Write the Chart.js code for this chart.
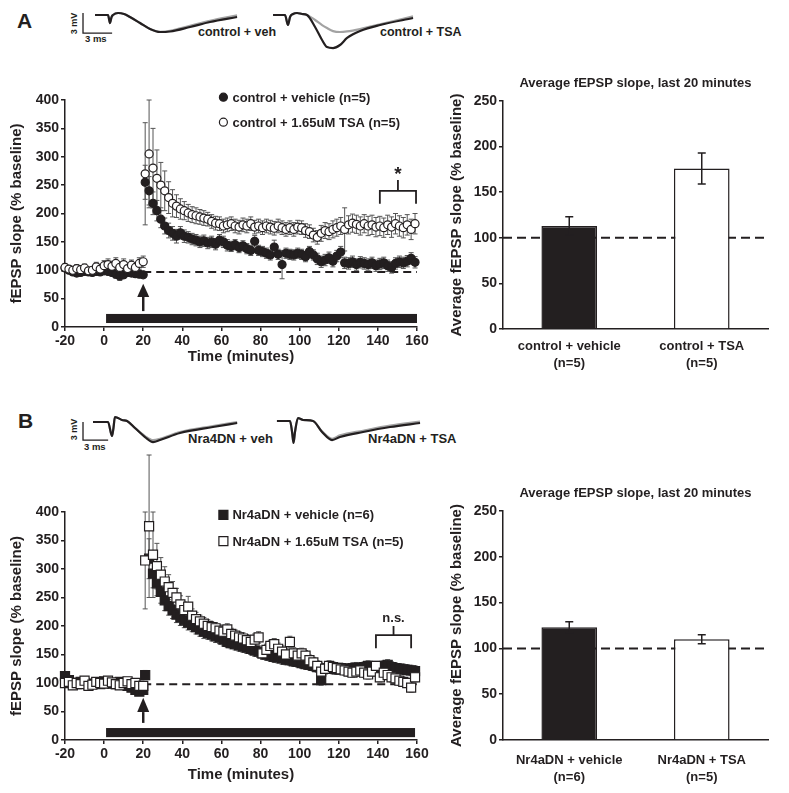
<!DOCTYPE html>
<html><head><meta charset="utf-8">
<script src="https://cdn.jsdelivr.net/npm/chart.js@4.4.1/dist/chart.umd.min.js"></script>
<style>
body{margin:0;background:#fff;width:789px;height:793px;position:relative;overflow:hidden;font-family:"Liberation Sans",Arial,sans-serif;color:#231f20}
canvas{position:absolute}
.t{position:absolute;font-weight:bold;white-space:nowrap;line-height:1}
</style></head><body>
<div class="t" style="left:17px;top:10px;font-size:21px">A</div>
<div class="t" style="left:18px;top:410px;font-size:21px">B</div>
<div class="t" style="left:198px;top:26px;font-size:12.5px">control + veh</div>
<div class="t" style="left:380px;top:26px;font-size:12.5px">control + TSA</div>
<div class="t" style="left:188px;top:432px;font-size:13px">Nra4DN + veh</div>
<div class="t" style="left:368px;top:432px;font-size:13px">Nr4aDN + TSA</div>
<div class="t" style="left:64px;top:19px;font-size:9px;transform:rotate(-90deg)">3 mV</div>
<div class="t" style="left:85px;top:34px;font-size:9.5px">3 ms</div>
<div class="t" style="left:64px;top:425px;font-size:9px;transform:rotate(-90deg)">3 mV</div>
<div class="t" style="left:84px;top:442px;font-size:9.5px">3 ms</div>

<canvas id="timeA" width="440" height="290" style="left:0;top:80px"></canvas>
<canvas id="barA" width="349" height="300" style="left:440px;top:70px"></canvas>
<canvas id="timeB" width="440" height="350" style="left:0;top:440px"></canvas>
<canvas id="barB" width="349" height="310" style="left:440px;top:480px"></canvas>
<canvas id="traceA" width="390" height="55" style="left:80px;top:0"></canvas>
<canvas id="traceB" width="390" height="55" style="left:80px;top:407px"></canvas>

<script>
// ---------------- DATA ----------------
const timeMin = [-20,-18,-16,-14,-12,-10,-8,-6,-4,-2,0,2,4,6,8,10,12,14,16,18,20,
21,23,25,27,29,31,33,35,37,39,41,43,45,47,49,51,53,55,57,59,61,63,65,67,69,71,73,75,77,79,
81,83,85,87,89,91,93,95,97,99,101,103,105,107,109,111,113,115,117,119,121,123,125,127,129,131,133,135,137,139,
141,143,145,147,149,151,153,155,157,159];

const ctrlVehMean = [104,100,97,95,96,98,97,96,98,97,99,98,96,93,90,92,96,95,94,93,92,
255,240,218,205,190,178,170,165,160,166,160,158,155,153,150,152,148,150,146,153,150,144,142,145,140,143,138,135,151,135,
133,130,127,141,128,110,130,128,127,130,128,124,133,127,120,115,118,122,116,125,132,113,112,115,110,114,112,110,113,108,
111,113,108,105,112,115,113,116,121,114];
const ctrlVehSem = [6,5,5,6,5,5,6,5,5,6,6,5,6,7,8,6,7,6,6,6,5,
30,25,20,18,15,14,13,12,12,11,11,10,10,10,10,10,10,10,10,10,10,10,9,9,9,9,9,9,10,9,
9,9,9,12,9,25,9,9,9,9,9,9,9,9,10,10,10,10,10,10,10,10,10,10,10,10,10,10,10,10,
10,10,10,10,10,10,10,10,10,10];

const ctrlTsaMean = [105,102,100,103,101,104,99,100,106,102,108,110,107,112,105,110,103,109,105,112,115,
270,305,280,262,250,240,228,218,213,208,205,201,198,196,194,192,190,186,183,182,178,180,182,178,176,180,178,182,176,178,
175,178,176,174,178,175,172,175,172,176,175,170,168,162,158,165,170,168,172,175,178,172,180,183,181,178,182,178,180,176,
178,175,180,176,182,178,175,180,172,182];
const ctrlTsaSem = [7,6,6,7,6,7,6,6,8,7,9,10,9,10,9,10,8,9,8,10,10,
90,95,70,50,40,35,28,24,20,18,16,15,14,14,13,13,12,12,12,12,12,12,12,12,12,12,12,12,12,12,
12,12,12,12,12,12,12,12,12,12,12,12,12,12,12,14,14,14,15,15,15,38,16,16,16,16,16,17,17,17,
17,17,17,18,18,18,18,18,18,18];

const nr4VehMean = [112,105,100,98,102,100,97,99,101,98,103,100,99,98,102,97,95,92,88,85,88,
114,318,292,275,260,245,235,228,220,215,210,206,202,198,194,190,188,185,182,180,176,172,170,168,166,164,162,160,157,155,
152,150,148,146,145,143,141,140,138,137,135,133,132,130,128,105,125,126,125,124,126,125,124,126,127,125,128,130,128,126,
128,130,132,128,126,125,124,123,122,121];
const nr4VehSem = [6,6,6,5,5,6,5,5,6,5,6,5,5,6,6,5,5,6,7,6,8,
8,35,25,22,20,18,16,15,14,14,13,13,12,12,12,12,11,11,11,11,11,10,10,10,10,10,10,10,10,10,
10,10,10,10,10,10,9,9,9,9,9,9,9,9,9,9,9,9,9,9,9,9,9,9,9,9,9,9,9,9,
9,9,9,9,9,9,9,9,9,9];

const nr4TsaMean = [100,102,96,100,98,104,95,97,102,100,99,104,101,98,96,100,103,98,100,95,95,
315,375,325,305,290,278,268,258,250,238,228,234,218,212,208,204,200,198,196,192,190,194,186,183,180,178,175,172,176,180,
152,158,165,168,160,155,150,172,152,148,152,148,140,136,130,120,125,130,128,126,124,122,120,118,120,122,118,115,120,130,
110,118,114,110,108,104,102,100,92,110];
const nr4TsaSem = [7,6,7,6,7,6,7,6,6,7,6,6,7,6,7,6,7,6,7,6,7,
85,125,75,40,30,26,22,20,16,15,14,18,12,12,11,11,11,10,10,10,10,10,10,10,10,10,10,10,10,10,
10,10,10,10,10,10,10,10,10,10,9,9,9,9,9,9,9,9,9,9,8,8,8,8,8,8,8,8,8,8,
8,8,8,8,8,8,8,8,8,8];

const barCatsA = [['control + vehicle','(n=5)'],['control + TSA','(n=5)']];
const barMeansA = [113,176];
const barSemA = [10,17];
const barCatsB = [['Nr4aDN + vehicle','(n=6)'],['Nr4aDN + TSA','(n=5)']];
const barMeansB = [123,110];
const barSemB = [6,5];

const legendA = ['control + vehicle (n=5)','control + 1.65uM TSA (n=5)'];
const legendB = ['Nr4aDN + vehicle (n=6)','Nr4aDN + 1.65uM TSA (n=5)'];

// example fEPSP traces (ms, mV)
const traceAvehMs = [1.55,2.89,3.09,3.25,3.4,3.92,4.54,5.15,6.19,7.22,8.25,9.28,11.34,13.4,16.19];
const traceAvehBlack = [0,0,-1.2,-0.3,0,0.3,0.15,-0.3,-1.19,-2.09,-2.54,-2.46,-1.79,-1.04,-0.3];
const traceAvehGray = [0,0,-1.2,-0.3,0,0.3,0.15,-0.3,-1.19,-2.09,-2.5,-2.35,-1.6,-0.85,-0.05];
const traceAtsaMs = [19.9,21.13,21.44,21.65,21.96,22.37,22.89,23.4,24.23,24.95,25.46,26.08,26.8,27.53,28.87,30.93,34.33];
const traceAtsaBlack = [0,0,-1.49,-0.3,0.15,0.3,0.15,0,-1.79,-3.73,-4.78,-4.93,-4.48,-3.43,-2.39,-1.49,-0.45];
const traceAtsaGray = [0,0,-1.49,-0.3,0.15,0.3,0.15,0,-0.75,-1.5,-1.95,-2.4,-2.54,-2.45,-2.1,-1.4,-0.2];
const traceBvehMs = [1.34,2.89,3.3,3.45,3.6,3.92,4.33,4.85,5.67,6.7,7.53,8.25,10.3,13.7,16.2];
const traceBvehBlack = [0,0,-2.09,-0.9,0.75,0.6,0.3,0.15,-0.9,-2.24,-2.99,-2.69,-1.64,-0.75,-0.15];
const traceBvehGray = [0,0,-2.09,-0.9,0.75,0.6,0.3,0.15,-0.9,-2.1,-2.7,-2.5,-1.5,-0.6,0];
const traceBtsaMs = [20.3,21.65,21.86,22.01,22.16,22.47,22.99,24.02,24.95,25.98,26.8,29.18,31.96,35.05];
const traceBtsaBlack = [0.15,0.15,-1.49,-3.13,-1.49,0.6,0.3,0.15,-1.49,-2.69,-2.24,-1.49,-0.75,-0.15];
const traceBtsaGray = [0.15,0.15,-1.49,-3.13,-1.49,0.6,0.3,0.15,-1.4,-2.5,-2.0,-1.3,-0.55,0.05];
const scaleBarA = [[0.31,0.3],[0.31,-2.7],[3.31,-2.7]];
const scaleBarB = [[0.31,0],[0.31,-2.7],[2.9,-2.7]];

// ---------------- RENDER ----------------
const INK = '#231f20';
const FONT = '"Liberation Sans", Arial, sans-serif';
Chart.defaults.font.family = FONT;
Chart.defaults.font.weight = 'bold';
Chart.defaults.color = INK;

const pts = (xs, ys) => ys.map((v, i) => ({x: xs[i], y: v}));

function drawMarker(ctx, style, filled, cx, cy) {
  ctx.save();
  ctx.lineWidth = 1.2; ctx.strokeStyle = INK; ctx.fillStyle = filled ? INK : '#fff';
  ctx.beginPath();
  if (style === 'circle') ctx.arc(cx, cy, 4, 0, Math.PI * 2);
  else ctx.rect(cx - 4.5, cy - 4.5, 9, 9);
  ctx.fill(); ctx.stroke();
  ctx.restore();
}

function timeChart(id, opts) {
  const ds = (mean, sem, filled) => ({
    data: pts(timeMin, mean), sem: sem,
    pointStyle: opts.style, pointRadius: opts.style === 'circle' ? 4 : 6.4,
    backgroundColor: filled ? INK : '#fff', borderColor: INK, borderWidth: 1.2,
    showLine: false, clip: false
  });
  const plugin = {
    id: 'deco_' + id,
    beforeDatasetsDraw(chart) {
      const {ctx, scales: {x, y}} = chart;
      ctx.save();
      // treatment bar
      ctx.fillStyle = INK;
      ctx.fillRect(x.getPixelForValue(opts.drug[0]), y.getPixelForValue(opts.drug[3]),
        x.getPixelForValue(opts.drug[1]) - x.getPixelForValue(opts.drug[0]),
        y.getPixelForValue(opts.drug[2]) - y.getPixelForValue(opts.drug[3]));
      // baseline dashed
      ctx.strokeStyle = INK; ctx.lineWidth = 2; ctx.setLineDash([8, 5]);
      ctx.beginPath();
      ctx.moveTo(x.getPixelForValue(20), y.getPixelForValue(opts.base));
      ctx.lineTo(x.getPixelForValue(160), y.getPixelForValue(opts.base));
      ctx.stroke(); ctx.setLineDash([]);
      // arrow
      const ax = x.getPixelForValue(20);
      ctx.lineWidth = 2.5;
      ctx.beginPath(); ctx.moveTo(ax, y.getPixelForValue(opts.arrow[0])); ctx.lineTo(ax, y.getPixelForValue(opts.arrow[1])); ctx.stroke();
      ctx.beginPath();
      ctx.moveTo(ax, y.getPixelForValue(opts.arrow[2]));
      ctx.lineTo(ax - 6, y.getPixelForValue(opts.arrow[1]));
      ctx.lineTo(ax + 6, y.getPixelForValue(opts.arrow[1]));
      ctx.closePath(); ctx.fill();
      // error bars
      ctx.lineWidth = 1; ctx.strokeStyle = '#555';
      chart.data.datasets.forEach(d => {
        d.data.forEach((p, i) => {
          const px = x.getPixelForValue(p.x);
          const t = y.getPixelForValue(p.y + d.sem[i]);
          const b = y.getPixelForValue(p.y - d.sem[i]);
          ctx.beginPath();
          ctx.moveTo(px, t); ctx.lineTo(px, b);
          ctx.moveTo(px - 2.5, t); ctx.lineTo(px + 2.5, t);
          ctx.moveTo(px - 2.5, b); ctx.lineTo(px + 2.5, b);
          ctx.stroke();
        });
      });
      ctx.restore();
    },
    afterDatasetsDraw(chart) {
      const {ctx, scales: {x, y}} = chart;
      ctx.save();
      // bracket
      const br = opts.bracket;
      ctx.strokeStyle = INK; ctx.lineWidth = 1.8;
      ctx.beginPath();
      ctx.moveTo(x.getPixelForValue(br.x0), y.getPixelForValue(br.yLow));
      ctx.lineTo(x.getPixelForValue(br.x0), y.getPixelForValue(br.y));
      ctx.lineTo(x.getPixelForValue(br.x1), y.getPixelForValue(br.y));
      ctx.lineTo(x.getPixelForValue(br.x1), y.getPixelForValue(br.yLow));
      const mx = x.getPixelForValue((br.x0 + br.x1) / 2);
      ctx.moveTo(mx, y.getPixelForValue(br.y));
      ctx.lineTo(mx, y.getPixelForValue(br.yStem));
      ctx.stroke();
      ctx.fillStyle = INK; ctx.textAlign = 'center'; ctx.textBaseline = 'middle';
      ctx.font = 'bold ' + br.size + 'px ' + FONT;
      ctx.fillText(br.label, mx, y.getPixelForValue(br.yLabel));
      // legend
      ctx.font = 'bold 13px ' + FONT; ctx.textAlign = 'left';
      opts.legend.forEach((txt, i) => {
        const lx = x.getPixelForValue(opts.legendPos[0]);
        const ly = y.getPixelForValue(opts.legendPos[1 + i]);
        drawMarker(ctx, opts.style, i === 0, lx, ly);
        ctx.fillStyle = INK;
        ctx.fillText(txt, lx + 9, ly + 1);
      });
      ctx.restore();
    }
  };
  return new Chart(document.getElementById(id), {
    type: 'scatter',
    data: {datasets: [ds(opts.tsa, opts.tsaSem, false), ds(opts.veh, opts.vehSem, true)]},
    options: {
      responsive: false, animation: false, devicePixelRatio: 1,
      layout: {padding: {top: opts.padTop, right: 23, left: 0, bottom: 0}},
      plugins: {legend: {display: false}, tooltip: {enabled: false}},
      scales: {
        x: {
          type: 'linear', min: -20, max: 160,
          ticks: {stepSize: 20, font: {size: 14, weight: 'bold'}, padding: 2, color: INK, maxRotation: 0},
          grid: {display: true, drawOnChartArea: false, drawTicks: true, tickLength: 4, color: INK, lineWidth: 1.5},
          border: {color: INK, width: 1.5},
          title: {display: true, text: 'Time (minutes)', font: {size: 15, weight: 'bold'}, color: INK, padding: {top: 0, bottom: opts.xTitlePad}},
          afterFit: s => { s.height = opts.xH; }
        },
        y: {
          min: 0, max: 400,
          ticks: {stepSize: 50, font: {size: 14, weight: 'bold'}, padding: 2, color: INK},
          grid: {display: true, drawOnChartArea: false, drawTicks: true, tickLength: 4, color: INK, lineWidth: 1.5},
          border: {color: INK, width: 1.5},
          title: {display: true, text: 'fEPSP slope (% baseline)', font: {size: 15, weight: 'bold'}, color: INK, padding: {top: 8, bottom: 0}},
          afterFit: s => { s.width = 65; }
        }
      }
    },
    plugins: [plugin]
  });
}

timeChart('timeA', {
  style: 'circle', veh: ctrlVehMean, vehSem: ctrlVehSem, tsa: ctrlTsaMean, tsaSem: ctrlTsaSem,
  drug: [1, 160, 7, 23], base: 97, arrow: [28, 53, 76],
  bracket: {x0: 141, x1: 159.5, y: 240, yLow: 217, yStem: 259, yLabel: 268, label: '*', size: 19},
  legend: legendA, legendPos: [61, 405, 361], padTop: 20, xH: 43, xTitlePad: 4
});
timeChart('timeB', {
  style: 'rect', veh: nr4VehMean, vehSem: nr4VehSem, tsa: nr4TsaMean, tsaSem: nr4TsaSem,
  drug: [1, 159, 5, 21], base: 98, arrow: [30, 49, 74],
  bracket: {x0: 139, x1: 157, y: 184, yLow: 161, yStem: 200, yLabel: 214, label: 'n.s.', size: 13},
  legend: legendB, legendPos: [61, 395, 349], padTop: 72, xH: 50, xTitlePad: 6
});

function barChart(id, cats, means, sems, xH, tickPad) {
  const plugin = {
    id: 'bar_' + id,
    beforeDatasetsDraw(chart) {
      const {ctx, chartArea: a, scales: {y}} = chart;
      ctx.save();
      ctx.strokeStyle = INK; ctx.lineWidth = 2; ctx.setLineDash([9, 5]);
      ctx.beginPath();
      ctx.moveTo(a.left, y.getPixelForValue(100)); ctx.lineTo(a.right, y.getPixelForValue(100));
      ctx.stroke();
      ctx.restore();
    },
    afterDatasetsDraw(chart) {
      const {ctx, chartArea: a, scales: {x, y}} = chart;
      ctx.save();
      ctx.lineWidth = 1.5;
      means.forEach((m, i) => {
        const px = x.getPixelForValue(i);
        const t = y.getPixelForValue(m + sems[i]);
        const b = y.getPixelForValue(m - sems[i]);
        ctx.strokeStyle = INK;
        ctx.beginPath();
        ctx.moveTo(px, t); ctx.lineTo(px, b);
        ctx.moveTo(px - 4, t); ctx.lineTo(px + 4, t);
        ctx.moveTo(px - 4, b); ctx.lineTo(px + 4, b);
        ctx.stroke();
      });
      ctx.fillStyle = INK; ctx.textAlign = 'center'; ctx.textBaseline = 'middle';
      ctx.font = 'bold 13px ' + FONT;
      ctx.fillText('Average fEPSP slope, last 20 minutes', (a.left + a.right) / 2, a.top - 18);
      ctx.restore();
    }
  };
  return new Chart(document.getElementById(id), {
    type: 'bar',
    data: {labels: cats, datasets: [{data: means, backgroundColor: [INK, '#fff'], borderColor: INK, borderWidth: 1.5,
      barPercentage: 0.42, categoryPercentage: 1}]},
    options: {
      responsive: false, animation: false, devicePixelRatio: 1,
      layout: {padding: {top: 31, right: 21, left: 0, bottom: 0}},
      plugins: {legend: {display: false}, tooltip: {enabled: false}},
      scales: {
        x: {
          ticks: {font: {size: 13, weight: 'bold', lineHeight: 1.3}, padding: tickPad, color: INK, maxRotation: 0},
          grid: {display: false},
          border: {color: INK, width: 1.5},
          afterFit: s => { s.height = xH; }
        },
        y: {
          min: 0, max: 250,
          ticks: {stepSize: 50, font: {size: 14, weight: 'bold'}, padding: 2, color: INK},
          grid: {display: true, drawOnChartArea: false, drawTicks: true, tickLength: 4, color: INK, lineWidth: 1.5},
          border: {color: INK, width: 1.5},
          title: {display: true, text: 'Average fEPSP slope (% baseline)', font: {size: 15, weight: 'bold'}, color: INK, padding: {top: 8, bottom: 0}},
          afterFit: s => { s.width = 63; }
        }
      }
    },
    plugins: [plugin]
  });
}
barChart('barA', barCatsA, barMeansA, barSemA, 41, 1);
barChart('barB', barCatsB, barMeansB, barSemB, 50, 4);

function traceChart(id, parts, bar) {
  const datasets = [];
  parts.forEach(p => {
    datasets.push({data: pts(p.ms, p.black), borderColor: INK, borderWidth: 2.2, pointRadius: 0, cubicInterpolationMode: 'monotone'});
  });
  parts.forEach(p => {
    datasets.push({data: pts(p.ms, p.gray), borderColor: '#a3a3a3', borderWidth: 2.2, pointRadius: 0, cubicInterpolationMode: 'monotone'});
  });
  datasets.unshift({data: bar.map(b => ({x: b[0], y: b[1]})), borderColor: INK, borderWidth: 1.3, pointRadius: 0, tension: 0});
  return new Chart(document.getElementById(id), {
    type: 'line',
    data: {datasets},
    options: {
      responsive: false, animation: false, devicePixelRatio: 1,
      layout: {padding: 0},
      plugins: {legend: {display: false}, tooltip: {enabled: false}},
      scales: {
        x: {type: 'linear', min: 0, max: 40.2, display: false},
        y: {min: -5.97, max: 2.24, display: false}
      }
    }
  });
}
traceChart('traceA', [
  {ms: traceAvehMs, black: traceAvehBlack, gray: traceAvehGray},
  {ms: traceAtsaMs, black: traceAtsaBlack, gray: traceAtsaGray}
], scaleBarA);
traceChart('traceB', [
  {ms: traceBvehMs, black: traceBvehBlack, gray: traceBvehGray},
  {ms: traceBtsaMs, black: traceBtsaBlack, gray: traceBtsaGray}
], scaleBarB);
</script>
</body></html>
